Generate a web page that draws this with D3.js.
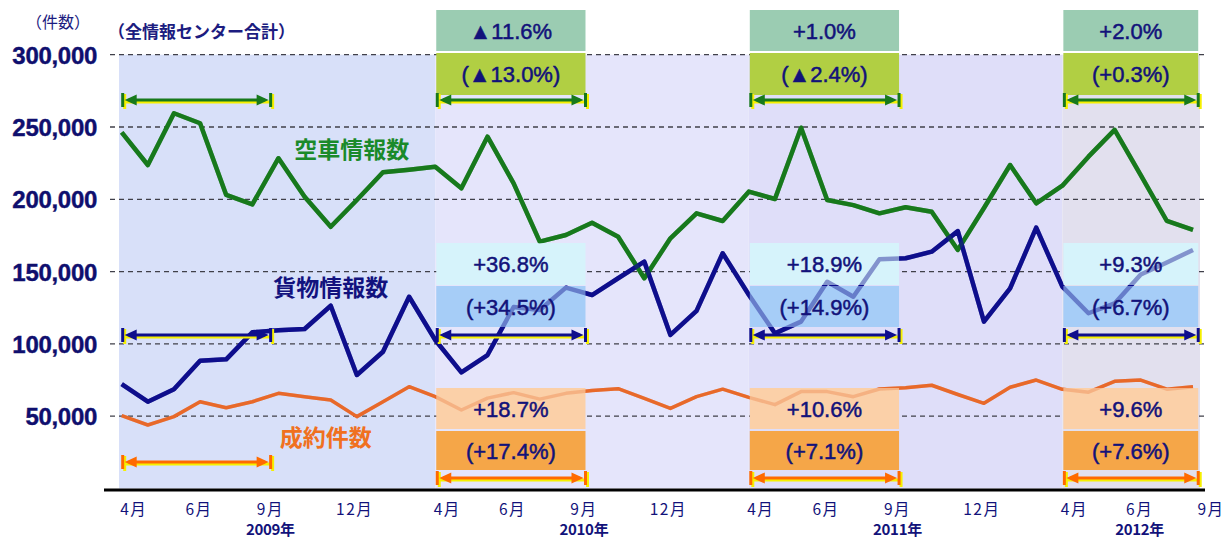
<!DOCTYPE html>
<html><head><meta charset="utf-8">
<script src="https://cdn.jsdelivr.net/npm/d3@7"></script>
<style>body{margin:0;background:#fff;} svg{display:block;}</style>
</head><body><svg id="chart" width="1225" height="540"></svg>
<script>
// ---------------- data ----------------
const months = [
 "2009-04","2009-05","2009-06","2009-07","2009-08","2009-09","2009-10","2009-11","2009-12","2010-01","2010-02","2010-03",
 "2010-04","2010-05","2010-06","2010-07","2010-08","2010-09","2010-10","2010-11","2010-12","2011-01","2011-02","2011-03",
 "2011-04","2011-05","2011-06","2011-07","2011-08","2011-09","2011-10","2011-11","2011-12","2012-01","2012-02","2012-03",
 "2012-04","2012-05","2012-06","2012-07","2012-08","2012-09"];
// 空車情報数
const vacantInfo = [
 246300,223700,259500,252600,203000,196500,228400,201800,181000,199500,218700,220500,
 222500,207600,243300,211000,170700,175300,183800,174100,145400,173000,190300,185000,
 205300,200200,249500,199500,196000,190300,194500,191400,165000,194000,223700,197200,
 209400,229500,248000,216800,185000,178800];
// 貨物情報数
const cargoInfo = [
 72100,60000,68600,88400,89300,108000,109400,110300,126400,78500,94600,132600,
 102700,80300,92300,125500,123400,138900,133800,145400,156900,106200,122800,162700,
 134000,107300,115400,143000,132600,158500,159200,163800,178000,115400,138400,180400,
 139600,121200,128000,148000,156300,165000];
// 成約件数
const contracts = [
 50400,43900,49700,60000,55900,60000,65800,63500,61200,49700,60000,70400,
 63500,54300,62500,66300,61800,65800,67800,69000,62400,55400,63500,68700,
 63000,58000,67000,67000,63500,68800,69700,71400,65000,58900,70000,75000,
 68600,66600,74100,75000,68700,70400];

const yTicks = [50000,100000,150000,200000,250000,300000];
const monthTickIdx = [0,2,5,8,12,14,17,20,24,26,29,32,36,38,41];
const monthTickLabels = ["4月","6月","9月","12月","4月","6月","9月","12月","4月","6月","9月","12月","4月","6月","9月"];
const yearLabels = ["2009年","2010年","2011年","2012年"];
const yearAnchorTick = [2,6,10,13];           // index into monthTickIdx
const bandStartIdx = [0,12,24,36];            // fiscal-year background bands
const periodStart = [12,24,36];               // comparison periods (4月〜9月)
const periodEnd = [17.75,29.75,41.2];
const basePeriod = [0,5.7];                   // 2009 reference arrows
const vacantTop = ["▲11.6%","+1.0%","+2.0%"];
const vacantSub = ["(▲13.0%)","(▲2.4%)","(+0.3%)"];
const cargoTop = ["+36.8%","+18.9%","+9.3%"];
const cargoSub = ["(+34.5%)","(+14.9%)","(+6.7%)"];
const contractTop = ["+18.7%","+10.6%","+9.6%"];
const contractSub = ["(+17.4%)","(+7.1%)","(+7.6%)"];
const seriesNames = ["空車情報数","貨物情報数","成約件数"];

// ---------------- layout / style ----------------
const svg = d3.select("#chart");
const x = d3.scaleLinear().domain([0, months.length - 1]).range([121.7, 1193]);
const y = d3.scaleLinear().domain([0, 300000]).range([488.5, 54.7]);
const plotLeft = 119, plotRight = 1200, gridLeft = 110, gridRight = 1205;
const bandColors = ["#d8e0f9","#e5e5fb","#dfdef9","#e2e0ee"];
const navy = "#12127a";
const cGreen = "#17791c", cNavy = "#0e0e8c", cOrange = "#e8692a";
const labelDx = {"4月":12,"6月":25,"9月":18,"12月":24};
const rows = {
  vacant:   {top:[10,51],  sub:[53,95],   arrow:100, arrow0:100, c1:"#9bccb2", c2:"#b1cf43", line:cGreen},
  cargo:    {top:[243,285],sub:[286,327], arrow:335, arrow0:335, c1:"#d6f3fb", c2:"#a6cdf7", line:cNavy},
  contract: {top:[388,429],sub:[431,470], arrow:478, arrow0:462, c1:"#fbd0a8", c2:"#f5a648", line:"#ff6a00"}
};
const jp = "'Noto Sans CJK JP', 'Noto Sans', sans-serif";
const latin = "'Liberation Sans', Arial, sans-serif";

// background bands
const bandX0 = bandStartIdx.map((s,i) => i === 0 ? plotLeft : x(s));
const bandX1 = bandStartIdx.map((s,i) => i < bandStartIdx.length - 1 ? x(bandStartIdx[i+1]) : plotRight);
svg.append("g").selectAll("rect").data(bandStartIdx).join("rect")
  .attr("x", (d,i) => bandX0[i]).attr("width", (d,i) => bandX1[i] - bandX0[i])
  .attr("y", y(300000)).attr("height", y(0) - y(300000))
  .attr("fill", (d,i) => bandColors[i]);

// gridlines
svg.append("g").selectAll("line").data(yTicks).join("line")
  .attr("x1", gridLeft).attr("x2", gridRight)
  .attr("y1", d => y(d)).attr("y2", d => y(d))
  .attr("stroke", "#40404a").attr("stroke-width", 1.3).attr("stroke-dasharray", "5,4");

// y axis labels
svg.append("g").selectAll("text").data(yTicks).join("text")
  .attr("x", 97).attr("y", d => y(d) + 9)
  .attr("text-anchor", "end").attr("font-family", latin).attr("font-weight", "bold")
  .attr("font-size", 24).attr("fill", "#0f0f6e").attr("letter-spacing", -0.3)
  .attr("stroke", "#0f0f6e").attr("stroke-width", 0.4)
  .text(d => d3.format(",")(d));

// lines
const line = d3.line().x((d,i) => x(i)).y(d => y(d));
const series = [
  {vals: vacantInfo, color: cGreen, w: 4.5},
  {vals: cargoInfo, color: cNavy, w: 4.5},
  {vals: contracts, color: cOrange, w: 3.5}
];
const lineG = svg.append("g");
series.forEach(s => lineG.append("path").attr("d", line(s.vals)).attr("fill","none")
  .attr("stroke", s.color).attr("stroke-width", s.w).attr("stroke-linejoin","round"));

// comparison boxes
const boxG = svg.append("g");
const texts = {vacant:[vacantTop,vacantSub], cargo:[cargoTop,cargoSub], contract:[contractTop,contractSub]};
Object.keys(rows).forEach(k => {
  const r = rows[k];
  periodStart.forEach((s,i) => {
    const x0 = x(s) + 1, x1 = Math.min(x(periodEnd[i]), plotRight + 4);
    boxG.append("rect").attr("x", x0).attr("width", x1 - x0)
      .attr("y", r.top[0]).attr("height", r.top[1] - r.top[0]).attr("fill", r.c1);
    boxG.append("rect").attr("x", x0).attr("width", x1 - x0)
      .attr("y", r.sub[0]).attr("height", r.sub[1] - r.sub[0]).attr("fill", r.c2);
  });
});
// faded lines visible through boxes
const fadeG = svg.append("g");
series.forEach(s => fadeG.append("path").attr("d", line(s.vals)).attr("fill","none")
  .attr("stroke", s.color).attr("stroke-width", s.w).attr("stroke-linejoin","round")
  .attr("opacity", s.color === cOrange ? 0.3 : 0.42));

// box texts
const txtG = svg.append("g");
Object.keys(rows).forEach(k => {
  const r = rows[k];
  periodStart.forEach((s,i) => {
    const x0 = x(s) + 1, x1 = Math.min(x(periodEnd[i]), plotRight + 4), cx = (x0 + x1) / 2;
    [[r.top, texts[k][0][i]], [r.sub, texts[k][1][i]]].forEach(([yy, t]) => {
      txtG.append("text").attr("x", cx).attr("y", (yy[0] + yy[1]) / 2 + 8)
        .attr("text-anchor", "middle").attr("font-family", latin).attr("font-size", 22)
        .attr("fill", navy).attr("stroke", navy).attr("stroke-width", 0.5).text(t);
    });
  });
});

// arrows
function arrow(x1, x2, yy, color) {
  const g = svg.append("g");
  const yel = "#f6f000";
  g.append("line").attr("x1", x1 + 2).attr("x2", x2 + 1).attr("y1", yy + 2).attr("y2", yy + 2)
    .attr("stroke", yel).attr("stroke-width", 3);
  [x1, x2].forEach(xx => g.append("line").attr("x1", xx + 2).attr("x2", xx + 2)
    .attr("y1", yy - 6).attr("y2", yy + 9).attr("stroke", yel).attr("stroke-width", 3));
  g.append("line").attr("x1", x1 + 6).attr("x2", x2 - 6).attr("y1", yy).attr("y2", yy)
    .attr("stroke", color).attr("stroke-width", 3.2);
  g.append("path").attr("d", `M${x1+2},${yy} L${x1+14},${yy-5.5} L${x1+14},${yy+5.5} Z`).attr("fill", color);
  g.append("path").attr("d", `M${x2-2},${yy} L${x2-14},${yy-5.5} L${x2-14},${yy+5.5} Z`).attr("fill", color);
  [x1, x2].forEach(xx => g.append("line").attr("x1", xx).attr("x2", xx)
    .attr("y1", yy - 7).attr("y2", yy + 7).attr("stroke", color).attr("stroke-width", 3));
}
Object.keys(rows).forEach(k => {
  const r = rows[k];
  arrow(x(basePeriod[0]) + 1, x(basePeriod[1]), r.arrow0, r.line);
  periodStart.forEach((s,i) => {
    const x0 = x(s) + 2, x1 = Math.min(x(periodEnd[i]), plotRight);
    arrow(x0, x1, r.arrow, r.line);
  });
});

// series labels
const nameSpecs = [
  {t: seriesNames[0], i: 6.6, v: 234000, c: "#1a8a2a"},
  {t: seriesNames[1], i: 5.8, v: 139000, c: "#12127e"},
  {t: seriesNames[2], i: 6.05, v: 35000, c: "#f07020"}
];
svg.append("g").selectAll("text").data(nameSpecs).join("text")
  .attr("x", d => x(d.i)).attr("y", d => y(d.v) + 8)
  .attr("font-family", jp).attr("font-weight", "bold").attr("font-size", 23)
  .attr("fill", d => d.c).text(d => d.t);

// x axis baseline
svg.append("line").attr("x1", 104).attr("x2", gridRight).attr("y1", 490).attr("y2", 490)
  .attr("stroke", "#000").attr("stroke-width", 3);

// month labels
const tickX = monthTickIdx.map((m,i) => x(m) + labelDx[monthTickLabels[i]]);
svg.append("g").selectAll("text").data(monthTickLabels).join("text")
  .attr("x", (d,i) => tickX[i]).attr("y", 515)
  .attr("text-anchor", "middle").attr("font-family", jp).attr("font-size", 15.5)
  .attr("letter-spacing", 1.5).attr("fill", navy).text(d => d);
// year labels
svg.append("g").selectAll("text").data(yearLabels).join("text")
  .attr("x", (d,i) => tickX[yearAnchorTick[i]]).attr("y", 535)
  .attr("text-anchor", "middle").attr("font-family", jp).attr("font-weight", "bold")
  .attr("font-size", 15).attr("letter-spacing", -0.3).attr("fill", navy).text(d => d);

// header texts
svg.append("text").attr("x", 26).attr("y", 28).attr("font-family", jp).attr("font-size", 16)
  .attr("fill", "#1c1c80").text("（件数）");
svg.append("text").attr("x", 108).attr("y", 38).attr("font-family", jp).attr("font-weight", "bold")
  .attr("font-size", 17).attr("fill", "#1c1c80").text("（全情報センター合計）");
</script></body></html>
